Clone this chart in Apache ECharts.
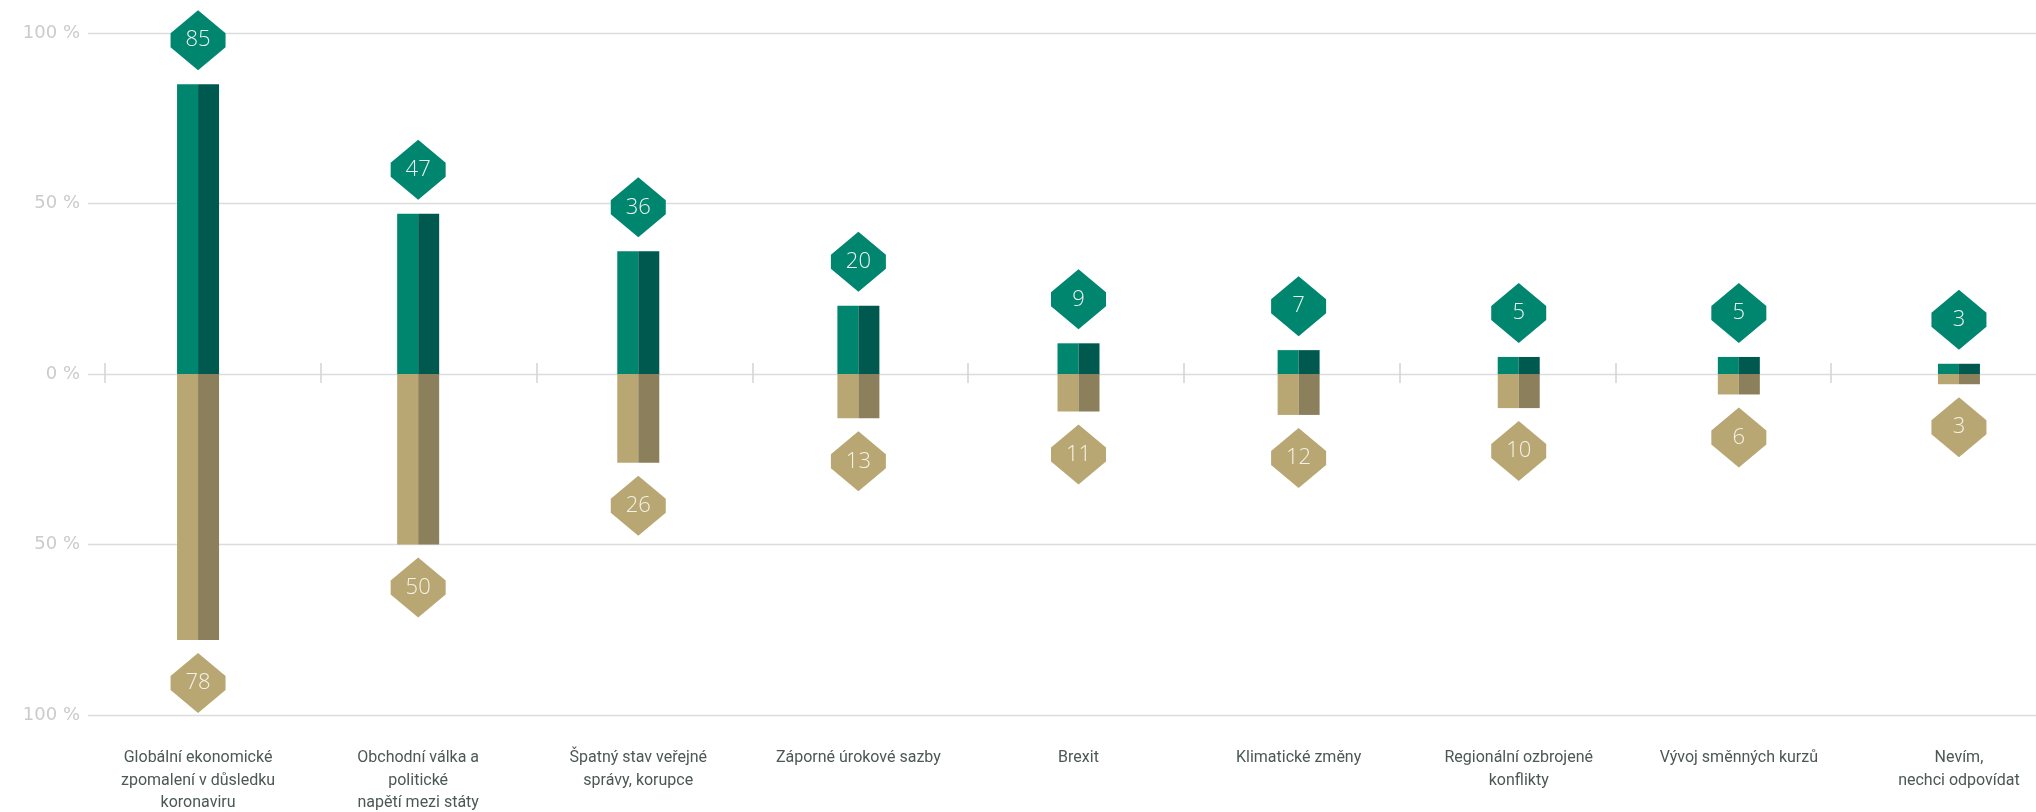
<!DOCTYPE html>
<html>
<head>
<meta charset="utf-8">
<script src="https://cdn.jsdelivr.net/npm/echarts@6/dist/echarts.min.js"></script>
<style>
html,body{margin:0;padding:0;background:#fff;}
#chart{width:2036px;height:812px;}
</style>
</head>
<body>
<div id="chart"></div>
<script>
const categories = [
  "Globální ekonomické\nzpomalení v důsledku\nkoronaviru",
  "Obchodní válka a\npolitické\nnapětí mezi státy",
  "Špatný stav veřejné\nsprávy, korupce",
  "Záporné úrokové sazby",
  "Brexit",
  "Klimatické změny",
  "Regionální ozbrojené\nkonflikty",
  "Vývoj směnných kurzů",
  "Nevím,\nnechci odpovídat"
];
const positiveValues = [85, 47, 36, 20, 9, 7, 5, 5, 3];
const negativeValues = [78, 50, 26, 13, 11, 12, 10, 6, 3];
const yTicks = [-100, -50, 0, 50, 100];

const negData = negativeValues.map(v => -v);
const diamond = 'path://M0,-30 L27,-7 L27,7 L0,30 L-27,7 L-27,-7 Z';
const labelFont = "'Liberation Sans Narrow', 'Roboto', sans-serif";

const chart = echarts.init(document.getElementById('chart'), null, {renderer: 'canvas'});
chart.setOption({
  animation: false,
  backgroundColor: '#ffffff',
  grid: [
    {left: 88, width: 1981, top: 33, bottom: 97, containLabel: false, outerBoundsMode: 'none'},
    {left: 105, width: 1942, top: 363, bottom: 429, containLabel: false, outerBoundsMode: 'none'}
  ],
  xAxis: [
    {
      type: 'category', gridIndex: 0, data: categories,
      axisLine: {show: false, onZero: false},
      axisTick: {show: false},
      axisLabel: {
        interval: 0, margin: 32, color: '#4b5855', fontSize: 16, lineHeight: 22.5,
        fontFamily: labelFont, align: 'center', verticalAlign: 'top'
      },
      splitLine: {show: false}
    },
    {
      type: 'category', gridIndex: 1, data: categories, boundaryGap: true,
      axisLine: {show: false},
      axisTick: {show: true, inside: true, length: 20, lineStyle: {color: '#d3d3d3', width: 1.5}},
      axisLabel: {show: false},
      splitLine: {show: false}
    }
  ],
  yAxis: [
    {
      type: 'value', gridIndex: 0, min: yTicks[0], max: yTicks[yTicks.length - 1], interval: 50,
      axisLine: {show: false}, axisTick: {show: false},
      axisLabel: {
        margin: 8, color: '#cbcbcb', fontSize: 18, fontFamily: "'DejaVu Sans', sans-serif",
        formatter: v => Math.abs(v) + ' %'
      },
      splitLine: {lineStyle: {color: '#dcdcdc', width: 1.3}}
    },
    {
      type: 'value', gridIndex: 1, min: 0, max: 1, show: false
    }
  ],
  series: [
    {type: 'bar', name: 'pos-light', data: positiveValues, stack: 'L', barWidth: 21, barGap: '0%',
     itemStyle: {color: '#00856f'}},
    {type: 'bar', name: 'pos-dark', data: positiveValues, stack: 'D', barWidth: 21, barGap: '0%',
     itemStyle: {color: '#00594e'}},
    {type: 'bar', name: 'neg-light', data: negData, stack: 'L', barWidth: 21, barGap: '0%',
     itemStyle: {color: '#b8a773'}},
    {type: 'bar', name: 'neg-dark', data: negData, stack: 'D', barWidth: 21, barGap: '0%',
     itemStyle: {color: '#8b7f5c'}},
    {type: 'scatter', name: 'pos-diamond', data: positiveValues, symbol: diamond,
     symbolSize: [55, 60], symbolOffset: [0, -44], z: 5,
     itemStyle: {color: '#00856f', opacity: 1},
     label: {show: true, position: 'inside', color: '#eef3ef', fontSize: 22,
       fontFamily: "'Open Sans', sans-serif", fontWeight: 300,
       formatter: p => Math.abs(p.value)}},
    {type: 'scatter', name: 'neg-diamond', data: negData, symbol: diamond,
     symbolSize: [55, 60], symbolOffset: [0, 43], z: 5,
     itemStyle: {color: '#b8a773', opacity: 1},
     label: {show: true, position: 'inside', color: '#f4f1e8', fontSize: 22,
       fontFamily: "'Open Sans', sans-serif", fontWeight: 300,
       formatter: p => Math.abs(p.value)}}
  ]
});
</script>
</body>
</html>
